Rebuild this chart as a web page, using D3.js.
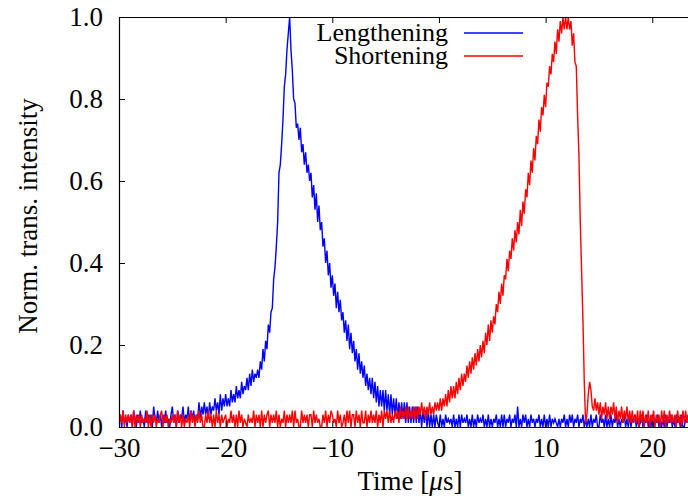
<!DOCTYPE html>
<html>
<head>
<meta charset="utf-8">
<script src="https://cdnjs.cloudflare.com/ajax/libs/d3/7.8.5/d3.min.js"></script>
<style>
  body { margin: 0; background: #fff; }
  text { font-family: "Liberation Serif", "DejaVu Serif", "Noto Serif", "Times New Roman", Times, serif; fill: #000; }
</style>
</head>
<body>
<svg id="plot" width="688" height="502"></svg>
<script>
// sampling of the traces (µs): one row = 1 µs
const t0 = -30, dt = 0.125;

const lengthening = [
  0.01,0.03,0.00,0.04,0.01,0.02,0.00,0.03,
  0.01,0.03,0.00,0.04,0.02,0.00,0.03,0.01,
  0.04,0.01,0.02,0.00,0.04,0.01,0.03,0.01,
  0.03,0.00,0.05,0.02,0.01,0.04,0.01,0.03,
  0.00,0.03,0.01,0.04,0.01,0.02,0.00,0.03,
  0.05,0.01,0.03,0.00,0.04,0.01,0.03,0.02,
  0.05,0.01,0.03,0.02,0.05,0.01,0.04,0.02,
  0.04,0.01,0.03,0.02,0.06,0.02,0.05,0.03,
  0.06,0.03,0.05,0.02,0.06,0.03,0.05,0.04,
  0.07,0.04,0.06,0.03,0.08,0.04,0.07,0.05,
  0.08,0.05,0.07,0.05,0.09,0.06,0.08,0.06,
  0.10,0.07,0.09,0.07,0.11,0.08,0.10,0.09,
  0.12,0.09,0.13,0.10,0.14,0.11,0.13,0.12,
  0.14,0.12,0.16,0.14,0.19,0.16,0.21,0.19,
  0.25,0.23,0.28,0.29,0.36,0.39,0.44,0.50,
  0.62,0.64,0.69,0.75,0.83,0.86,0.92,0.96,
  1.00,0.92,0.87,0.80,0.79,0.73,0.74,0.70,
  0.73,0.67,0.69,0.64,0.67,0.62,0.64,0.60,
  0.62,0.56,0.59,0.53,0.57,0.50,0.54,0.48,
  0.50,0.44,0.46,0.40,0.43,0.37,0.40,0.34,
  0.37,0.32,0.35,0.29,0.33,0.28,0.31,0.26,
  0.28,0.23,0.26,0.21,0.25,0.19,0.23,0.18,
  0.21,0.16,0.19,0.14,0.18,0.13,0.16,0.12,
  0.15,0.10,0.13,0.09,0.12,0.08,0.12,0.07,
  0.11,0.06,0.10,0.05,0.09,0.05,0.09,0.04,
  0.09,0.04,0.08,0.03,0.08,0.03,0.07,0.03,
  0.07,0.02,0.06,0.02,0.06,0.02,0.06,0.01,
  0.06,0.01,0.05,0.01,0.05,0.01,0.05,0.01,
  0.05,0.01,0.04,0.00,0.04,0.01,0.04,0.00,
  0.04,0.00,0.03,0.00,0.03,0.00,0.03,0.01,
  0.00,0.03,0.00,0.02,0.00,0.03,0.01,0.02,
  0.01,0.02,0.00,0.03,0.00,0.02,0.00,0.03,
  0.00,0.03,0.01,0.02,0.01,0.03,0.00,0.02,
  0.00,0.03,0.00,0.02,0.00,0.03,0.01,0.02,
  0.01,0.03,0.00,0.02,0.00,0.03,0.00,0.02,
  0.00,0.02,0.01,0.03,0.00,0.02,0.00,0.03,
  0.00,0.03,0.00,0.02,0.01,0.03,0.00,0.02,
  0.01,0.03,0.00,0.05,0.00,0.02,0.00,0.03,
  0.01,0.03,0.00,0.02,0.00,0.03,0.01,0.02,
  0.00,0.02,0.01,0.03,0.00,0.02,0.00,0.03,
  0.00,0.02,0.00,0.03,0.00,0.02,0.01,0.02,
  0.01,0.00,0.02,0.00,0.02,0.01,0.03,0.00,
  0.02,0.00,0.03,0.01,0.03,0.00,0.02,0.01,
  0.03,0.00,0.02,0.01,0.03,0.00,0.02,0.00,
  0.02,0.00,0.03,0.00,0.02,0.01,0.03,0.00,
  0.00,0.03,0.01,0.02,0.00,0.03,0.00,0.02,
  0.00,0.03,0.00,0.02,0.01,0.03,0.00,0.02,
  0.00,0.02,0.01,0.03,0.00,0.02,0.00,0.03,
  0.00,0.02,0.01,0.03,0.00,0.02,0.00,0.01,
  0.03,0.00,0.02,0.01,0.03,0.00,0.02,0.00,
  0.03,0.00,0.02,0.01,0.03,0.00,0.02,0.00,
  0.02,0.00,0.03,0.00,0.02,0.01,0.03,0.00,
  0.02,0.00,0.03,0.01,0.02,0.00,0.03,0.00,
  0.00,0.02,0.01,0.03,0.00
];

const shortening = [
  0.00,0.03,0.01,0.04,0.00,0.03,0.01,0.03,
  0.01,0.03,0.00,0.04,0.00,0.03,0.01,0.03,
  0.00,0.03,0.01,0.02,0.01,0.04,0.00,0.03,
  0.00,0.03,0.01,0.03,0.00,0.02,0.01,0.03,
  0.04,0.00,0.03,0.01,0.03,0.00,0.02,0.01,
  0.03,0.01,0.03,0.00,0.04,0.01,0.03,0.00,
  0.03,0.00,0.02,0.01,0.03,0.00,0.04,0.01,
  0.03,0.00,0.03,0.01,0.04,0.01,0.03,0.00,
  0.00,0.03,0.01,0.04,0.01,0.03,0.00,0.03,
  0.00,0.04,0.01,0.03,0.00,0.03,0.01,0.02,
  0.03,0.00,0.02,0.01,0.04,0.01,0.03,0.00,
  0.03,0.00,0.04,0.01,0.03,0.00,0.02,0.01,
  0.00,0.03,0.01,0.02,0.01,0.04,0.00,0.03,
  0.01,0.03,0.00,0.04,0.00,0.03,0.01,0.03,
  0.04,0.00,0.03,0.01,0.03,0.01,0.04,0.00,
  0.03,0.00,0.02,0.01,0.04,0.00,0.03,0.01,
  0.03,0.01,0.04,0.00,0.04,0.01,0.02,0.00,
  0.00,0.04,0.01,0.03,0.01,0.03,0.00,0.03,
  0.03,0.00,0.04,0.01,0.03,0.01,0.02,0.00,
  0.00,0.03,0.01,0.04,0.00,0.03,0.01,0.04,
  0.03,0.01,0.02,0.00,0.04,0.01,0.03,0.00,
  0.01,0.03,0.00,0.04,0.01,0.04,0.00,0.03,
  0.03,0.00,0.04,0.01,0.03,0.00,0.04,0.01,
  0.01,0.04,0.00,0.03,0.01,0.04,0.01,0.03,
  0.01,0.04,0.00,0.03,0.01,0.04,0.00,0.04,
  0.02,0.04,0.01,0.04,0.01,0.03,0.01,0.04,
  0.02,0.04,0.01,0.05,0.02,0.04,0.02,0.05,
  0.02,0.05,0.02,0.04,0.02,0.05,0.02,0.05,
  0.02,0.05,0.03,0.06,0.03,0.05,0.02,0.05,
  0.03,0.06,0.03,0.05,0.03,0.06,0.04,0.06,
  0.04,0.07,0.04,0.07,0.05,0.08,0.05,0.09,
  0.06,0.10,0.07,0.10,0.07,0.11,0.08,0.12,
  0.09,0.13,0.10,0.13,0.11,0.15,0.12,0.16,
  0.13,0.17,0.14,0.18,0.15,0.19,0.16,0.20,
  0.17,0.21,0.18,0.23,0.20,0.25,0.21,0.26,
  0.23,0.27,0.25,0.30,0.28,0.33,0.30,0.35,
  0.32,0.37,0.36,0.41,0.38,0.43,0.41,0.46,
  0.43,0.48,0.45,0.50,0.47,0.53,0.49,0.55,
  0.52,0.58,0.56,0.62,0.59,0.65,0.62,0.68,
  0.65,0.71,0.69,0.75,0.72,0.78,0.76,0.81,
  0.78,0.84,0.83,0.88,0.86,0.91,0.89,0.94,
  0.91,0.97,0.94,0.99,0.96,1.00,0.97,1.00,
  0.97,1.00,0.97,0.99,0.93,0.96,0.89,0.88,
  0.76,0.66,0.50,0.38,0.26,0.11,0.01,0.03,
  0.08,0.11,0.09,0.05,0.04,0.07,0.04,0.06,
  0.03,0.06,0.02,0.05,0.03,0.06,0.02,0.05,
  0.02,0.05,0.03,0.06,0.02,0.05,0.01,0.04,
  0.02,0.05,0.01,0.04,0.02,0.05,0.01,0.04,
  0.01,0.04,0.01,0.03,0.01,0.04,0.00,0.04,
  0.01,0.04,0.00,0.03,0.01,0.04,0.00,0.03,
  0.01,0.04,0.00,0.03,0.01,0.03,0.00,0.04,
  0.01,0.04,0.00,0.03,0.01,0.04,0.01,0.03,
  0.01,0.03,0.00,0.04,0.01,0.03,0.00,0.04,
  0.01,0.04,0.01,0.03,0.01
];

const xTicks = [-30, -20, -10, 0, 10, 20];
const yTicks = [0, 0.2, 0.4, 0.6, 0.8, 1.0];
const seriesNames = ["Lengthening", "Shortening"];
const seriesColors = ["#0000ff", "#ff0000"];

const serif = '"Liberation Serif", "DejaVu Serif", "Noto Serif", "Times New Roman", Times, serif';
const margin = { top: 17, right: 0, bottom: 75, left: 119 };
const width = 688 - margin.left - margin.right;
const height = 502 - margin.top - margin.bottom;

const svg = d3.select("#plot");
const g = svg.append("g").attr("transform", `translate(${margin.left},${margin.top})`);

const x = d3.scaleLinear().domain([-30, 23.35]).range([0, width]);
const y = d3.scaleLinear().domain([0, 1]).range([height, 0]);

g.append("clipPath").attr("id", "clip")
  .append("rect").attr("x", 0).attr("y", -2).attr("width", width).attr("height", height + 2);

const line = d3.line()
  .x((d, i) => x(t0 + i * dt))
  .y(d => y(d));

[lengthening, shortening].forEach((s, k) => {
  g.append("path")
    .datum(s)
    .attr("clip-path", "url(#clip)")
    .attr("fill", "none")
    .attr("stroke", seriesColors[k])
    .attr("stroke-width", 1.4)
    .attr("d", line);
});

// axes: inward ticks, mirrored on top
const xAxis = g.append("g").attr("transform", `translate(0,${height})`)
  .call(d3.axisBottom(x).tickValues(xTicks).tickSizeInner(-6).tickSizeOuter(0).tickPadding(11));
const xTop = g.append("g")
  .call(d3.axisTop(x).tickValues(xTicks).tickSizeInner(-6).tickSizeOuter(0).tickFormat(""));
const yAxis = g.append("g")
  .call(d3.axisLeft(y).tickValues(yTicks).tickSizeInner(-6).tickSizeOuter(0).tickPadding(16)
    .tickFormat(d3.format(".1f")));

[xAxis, xTop, yAxis].forEach(a => {
  a.attr("font-family", serif).attr("font-size", 27);
  a.selectAll("path.domain").attr("stroke", "#000").attr("stroke-width", 1.2);
  a.selectAll(".tick line").attr("stroke", "#000").attr("stroke-width", 1);
});
yAxis.selectAll("text").attr("dy", "0.3em");

// axis titles
const xt = svg.append("text")
  .attr("x", 410).attr("y", 490)
  .attr("text-anchor", "middle")
  .style("font-size", "27px");
xt.append("tspan").text("Time [");
xt.append("tspan").style("font-style", "italic").text("\u03bc");
xt.append("tspan").text("s]");

svg.append("text")
  .attr("transform", "translate(37,216) rotate(-90)")
  .attr("text-anchor", "middle")
  .style("font-size", "27px")
  .text("Norm. trans. intensity");

// legend
const legend = svg.append("g");
seriesNames.forEach((name, k) => {
  const ly = 33 + k * 23;
  legend.append("text")
    .attr("x", 448).attr("y", ly + 8)
    .attr("text-anchor", "end")
    .style("font-size", "26px")
    .text(name);
  legend.append("line")
    .attr("x1", 464).attr("x2", 523)
    .attr("y1", ly).attr("y2", ly)
    .attr("stroke", seriesColors[k])
    .attr("stroke-width", 1.5);
});
</script>
</body>
</html>
